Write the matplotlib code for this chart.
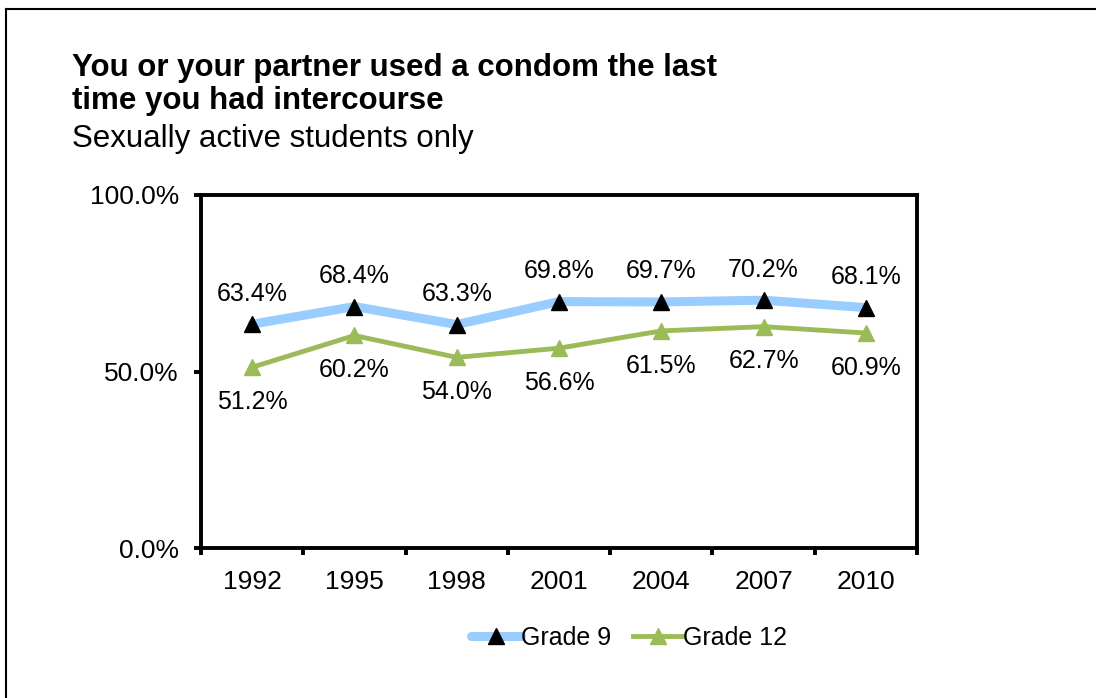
import matplotlib
matplotlib.use("Agg")
import matplotlib.pyplot as plt
from matplotlib.lines import Line2D
from matplotlib.ticker import FixedLocator

plt.rcParams["font.family"] = ["Liberation Sans", "DejaVu Sans"]

years = ["1992", "1995", "1998", "2001", "2004", "2007", "2010"]
grade9 = [63.4, 68.4, 63.3, 69.8, 69.7, 70.2, 68.1]
grade12 = [51.2, 60.2, 54.0, 56.6, 61.5, 62.7, 60.9]
y_ticks = [0, 50, 100]

W, H = 1096, 698
fig = plt.figure(figsize=(W / 100, H / 100), dpi=100)
ax = fig.add_axes([201 / W, 1 - 548 / H, (917 - 201) / W, (548 - 195) / H])

x = list(range(len(years)))
ax.plot(x, grade9, color="#99ccff", lw=6.5, solid_capstyle="round", zorder=2,
        marker="^", ms=12, mfc="black", mec="black", label="Grade 9")
ax.plot(x, grade12, color="#9bbb59", lw=3.5, zorder=3,
        marker="^", ms=12, mfc="#9bbb59", mec="#9bbb59", label="Grade 12")

for xi, v in zip(x, grade9):
    ax.annotate(f"{v:.1f}%", (xi, v), xytext=(0, 22), textcoords="offset points",
                ha="center", va="center", fontsize=18)
for xi, v in zip(x, grade12):
    ax.annotate(f"{v:.1f}%", (xi, v), xytext=(0, -25), textcoords="offset points",
                ha="center", va="center", fontsize=18)

ax.set_xlim(-0.5, len(years) - 0.5)
ax.set_ylim(0, 100)
ax.set_xticks(x)
ax.set_xticklabels(years)
ax.xaxis.set_minor_locator(FixedLocator([i - 0.5 for i in range(len(years) + 1)]))
ax.set_yticks(y_ticks)
ax.set_yticklabels([f"{t:.1f}%" for t in y_ticks])
ax.tick_params(axis="x", which="major", length=0, pad=16, labelsize=19)
ax.tick_params(axis="x", which="minor", length=5, width=2.8, direction="out")
ax.tick_params(axis="y", length=5, width=2.8, direction="out", pad=11, labelsize=19)
for s in ax.spines.values():
    s.set_linewidth(2.8)

fig.legend(loc="center", bbox_to_anchor=(629 / W, 1 - 638 / H), ncol=2, frameon=False,
           fontsize=18, handlelength=2.0, handletextpad=0.0, columnspacing=0.85)

fig.text(72 / W, 1 - 53 / H, "You or your partner used a condom the last\ntime you had intercourse",
         fontsize=22.5, fontweight="bold", va="top", ha="left", linespacing=1.12)
fig.text(72 / W, 1 - 124 / H, "Sexually active students only", fontsize=22.5,
         va="top", ha="left")

# frame edges along the top and left of the canvas
fig.add_artist(Line2D([6 / W, 1], [1 - 9 / H, 1 - 9 / H], color="black", lw=1.5,
                      transform=fig.transFigure))
fig.add_artist(Line2D([6 / W, 6 / W], [0, 1 - 9 / H], color="black", lw=1.5,
                      transform=fig.transFigure))

fig.savefig("out.png", dpi=100)
